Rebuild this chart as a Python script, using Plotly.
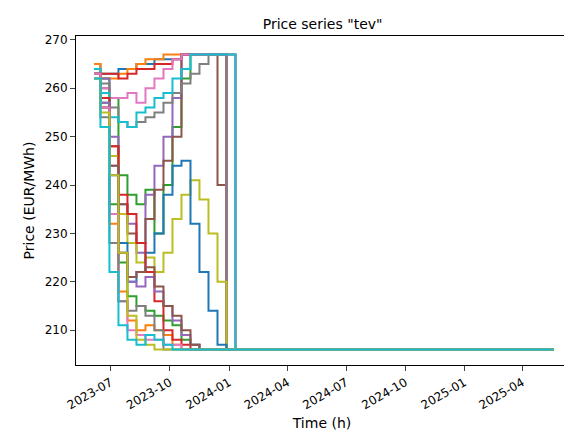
import plotly.graph_objects as go

# biweekly step dates, last point carries flat tail
dates = ["2023-06-05", "2023-06-15", "2023-06-29", "2023-07-13", "2023-07-27",
         "2023-08-10", "2023-08-24", "2023-09-07", "2023-09-21", "2023-10-05",
         "2023-10-19", "2023-11-02", "2023-11-16", "2023-11-30", "2023-12-14",
         "2023-12-28", "2024-01-11", "2025-05-20"]

series = [
    [265, 263, 263, 264, 264, 265, 265, 266, 266, 266, 267, 267, 267, 267, 267, 206, 206, 206],
    [265, 262, 262, 263, 264, 265, 266, 266, 267, 267, 267, 267, 267, 267, 267, 267, 206, 206],
    [264, 262, 258, 242, 238, 236, 239, 230, 240, 252, 262, 267, 267, 267, 267, 206, 206, 206],
    [264, 263, 263, 262, 263, 264, 264, 265, 265, 266, 267, 267, 267, 267, 267, 206, 206, 206],
    [264, 262, 250, 236, 232, 226, 238, 244, 250, 258, 267, 267, 267, 267, 267, 267, 206, 206],
    [264, 260, 248, 236, 230, 228, 233, 239, 245, 250, 267, 267, 267, 267, 240, 206, 206, 206],
    [264, 260, 258, 258, 259, 257, 260, 262, 264, 266, 267, 267, 267, 267, 267, 206, 206, 206],
    [264, 261, 256, 253, 252, 253, 254, 255, 257, 259, 261, 263, 265, 267, 267, 206, 206, 206],
    [264, 259, 246, 234, 228, 224, 225, 222, 226, 233, 238, 241, 237, 230, 220, 206, 206, 206],
    [264, 259, 254, 253, 252, 255, 256, 258, 259, 262, 264, 267, 267, 267, 267, 267, 206, 206],
    [263, 258, 242, 228, 220, 222, 226, 230, 238, 244, 245, 232, 222, 214, 207, 206, 206, 206],
    [263, 256, 232, 218, 212, 210, 211, 210, 209, 207, 206, 206, 206, 206, 206, 206, 206, 206],
    [263, 257, 236, 224, 217, 215, 214, 213, 212, 211, 208, 207, 206, 206, 206, 206, 206, 206],
    [263, 258, 248, 238, 234, 228, 222, 216, 210, 208, 207, 206, 206, 206, 206, 206, 206, 206],
    [263, 257, 244, 226, 220, 219, 221, 218, 215, 212, 209, 207, 206, 206, 206, 206, 206, 206],
    [263, 256, 244, 226, 221, 222, 223, 219, 215, 213, 210, 207, 206, 206, 206, 206, 206, 206],
    [263, 256, 234, 216, 210, 209, 208, 208, 207, 207, 206, 206, 206, 206, 206, 206, 206, 206],
    [262, 254, 228, 216, 214, 215, 213, 210, 206, 206, 206, 206, 206, 206, 206, 206, 206, 206],
    [262, 255, 242, 226, 213, 208, 207, 206, 206, 206, 206, 206, 206, 206, 206, 206, 206, 206],
    [262, 252, 222, 211, 208, 207, 209, 208, 207, 206, 206, 206, 206, 206, 206, 206, 206, 206],
]

colors = ["#1f77b4", "#ff7f0e", "#2ca02c", "#d62728", "#9467bd",
          "#8c564b", "#e377c2", "#7f7f7f", "#bcbd22", "#17becf"]

fig = go.Figure()
for i, vals in enumerate(series):
    fig.add_trace(go.Scatter(x=dates, y=vals, mode="lines", line_shape="hv",
                             line=dict(color=colors[i % 10], width=2),
                             showlegend=False))

fig.update_layout(
    width=572, height=438, margin=dict(l=68, r=12, t=28, b=81),
    plot_bgcolor="white", paper_bgcolor="white",
    font=dict(family="DejaVu Sans", size=12, color="black"),
    title=dict(text='Price series "tev"', x=0.55, xanchor="center", y=0.975,
               font=dict(size=14)),
)
fig.update_xaxes(range=["2023-05-08", "2025-06-11"], showgrid=False,
                 showline=True, linecolor="black", mirror=True,
                 ticks="outside", tickformat="%Y-%m", tickangle=-30,
                 dtick="M3", tick0="2023-07-01",
                 title=dict(text="Time (h)", standoff=6))
fig.update_yaxes(range=[202.8, 270.8], showgrid=False,
                 showline=True, linecolor="black", mirror=True,
                 ticks="outside", dtick=10,
                 title=dict(text="Price (EUR/MWh)", standoff=6))

fig.write_html("out.html")
